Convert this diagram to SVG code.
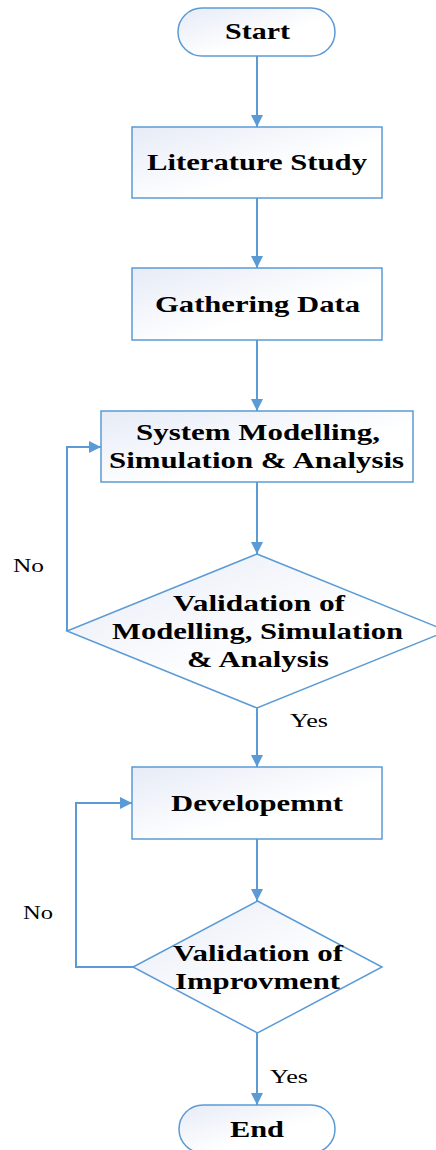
<svg xmlns="http://www.w3.org/2000/svg" width="436" height="1150" viewBox="0 0 436 1150">
<defs>
<linearGradient id="g" x1="0" y1="0" x2="1" y2="1">
<stop offset="0" stop-color="#e6ebf6"/>
<stop offset="0.6" stop-color="#ffffff"/>
</linearGradient>
<marker id="ah" markerUnits="userSpaceOnUse" markerWidth="14" markerHeight="12" refX="12" refY="6" orient="auto">
<path d="M0,0 L12,6 L0,12 Z" fill="#5b9bd5"/>
</marker>
<style>
.n{fill:url(#g);stroke:#5b9bd5;stroke-width:1.5}
.c{fill:none;stroke:#5b9bd5;stroke-width:2;marker-end:url(#ah)}
.t{font-family:"Liberation Serif",serif;font-weight:bold;font-size:24px;fill:#000}
.l{font-family:"Liberation Serif",serif;font-size:18px;fill:#000}
</style>
</defs>
<g id="connectors">
<path class="c" d="M257,56 V127"/>
<path class="c" d="M257,198 V268"/>
<path class="c" d="M257,340 V411"/>
<path class="c" d="M257,482 V554"/>
<path class="c" d="M257,708 V767"/>
<path class="c" d="M67,631 V447 H101"/>
<path class="c" d="M257,839 V901"/>
<path class="c" d="M257,1033 V1105"/>
<path class="c" d="M133,967 H76 V803 H132"/>
<text class="l" x="13" y="572" textLength="31" lengthAdjust="spacingAndGlyphs">No</text>
<text class="l" x="290" y="727" textLength="38" lengthAdjust="spacingAndGlyphs">Yes</text>
<text class="l" x="23" y="919" textLength="30" lengthAdjust="spacingAndGlyphs">No</text>
<text class="l" x="270" y="1083" textLength="38" lengthAdjust="spacingAndGlyphs">Yes</text>
</g>
<g id="start">
<rect class="n" x="178" y="8" width="157" height="48" rx="24"/>
<text class="t" x="225" y="39" textLength="65" lengthAdjust="spacingAndGlyphs">Start</text>
</g>
<g id="literature">
<rect class="n" x="132" y="127" width="250" height="71"/>
<text class="t" x="147" y="170" textLength="220" lengthAdjust="spacingAndGlyphs">Literature Study</text>
</g>
<g id="gathering">
<rect class="n" x="132" y="268" width="250" height="72"/>
<text class="t" x="155" y="312" textLength="205" lengthAdjust="spacingAndGlyphs">Gathering Data</text>
</g>
<g id="modelling">
<rect class="n" x="101" y="411" width="312" height="71"/>
<text class="t" x="136" y="440" textLength="244" lengthAdjust="spacingAndGlyphs">System Modelling,</text>
<text class="t" x="109" y="468" textLength="295" lengthAdjust="spacingAndGlyphs">Simulation &amp; Analysis</text>
</g>
<g id="validation1">
<path class="n" d="M257,554 L447,631 L257,708 L67,631 Z"/>
<text class="t" x="173" y="611" textLength="172" lengthAdjust="spacingAndGlyphs">Validation of</text>
<text class="t" x="112" y="639" textLength="291" lengthAdjust="spacingAndGlyphs">Modelling, Simulation</text>
<text class="t" x="187" y="667" textLength="142" lengthAdjust="spacingAndGlyphs">&amp; Analysis</text>
</g>
<g id="development">
<rect class="n" x="132" y="767" width="250" height="72"/>
<text class="t" x="171" y="811" textLength="172" lengthAdjust="spacingAndGlyphs">Developemnt</text>
</g>
<g id="validation2">
<path class="n" d="M257.5,901 L382,967 L257.5,1033 L133,967 Z"/>
<text class="t" x="173" y="961" textLength="170" lengthAdjust="spacingAndGlyphs">Validation of</text>
<text class="t" x="175" y="989" textLength="165" lengthAdjust="spacingAndGlyphs">Improvment</text>
</g>
<g id="end">
<rect class="n" x="179" y="1105" width="156" height="48" rx="24"/>
<text class="t" x="230" y="1137" textLength="54" lengthAdjust="spacingAndGlyphs">End</text>
</g>
</svg>
